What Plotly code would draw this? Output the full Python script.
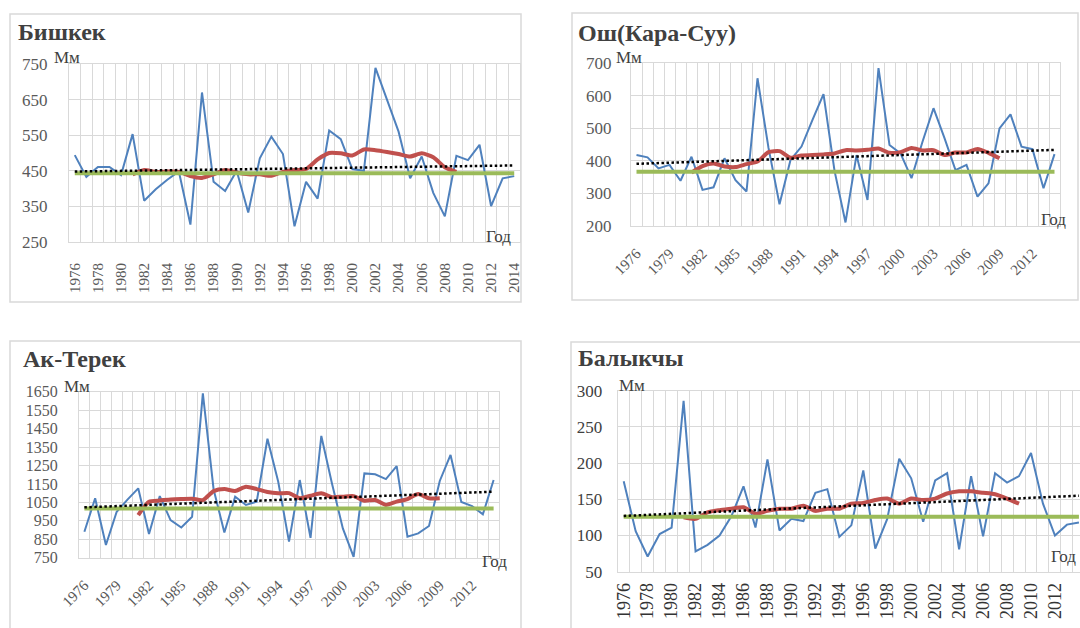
import plotly.graph_objects as go

W, H = 1080, 628

years = list(range(1976, 2015))
ma_years = list(range(1981, 2010))

# --- Бишкек ---
bishkek = [494, 433, 461, 461, 438, 553, 366, 398, 425, 448,
           299, 670, 419, 393, 450, 333, 485, 546, 497, 294,
           419, 372, 563, 539, 455, 450, 739, 650, 560, 429,
           490, 388, 322, 492, 480, 523, 351, 429, 435]
bishkek_ma = [440, 452, 447, 448, 447, 435, 430, 440, 452, 445,
              440, 440, 436, 447, 452, 455, 482, 500, 499, 493,
              510, 508, 503, 497, 490, 499, 488, 460, 447]
bishkek_norm = 443
bishkek_trend = [448, 465]

# --- Ош (Кара-Суу) ---
osh = [418, 411, 377, 388, 339, 413, 311, 319, 408, 341,
       306, 654, 440, 267, 403, 444, 526, 605, 370, 211,
       418, 280, 685, 449, 423, 347, 459, 562, 470, 372,
       388, 290, 331, 500, 543, 444, 436, 316, 421]
osh_ma = [364, 384, 392, 383, 381, 390, 398, 427, 430, 410,
          417, 418, 420, 423, 433, 432, 434, 438, 425, 427,
          440, 432, 433, 418, 426, 426, 437, 425, 408]
osh_norm = 367
osh_trend = [391, 434]

# --- Ак-Терек ---
akterek = [891, 1072, 819, 999, 1065, 1126, 878, 1084, 954, 914,
           972, 1641, 1120, 887, 1081, 1036, 1054, 1395, 1162, 837,
           1171, 858, 1410, 1150, 909, 755, 1207, 1202, 1176, 1247,
           864, 882, 922, 1166, 1307, 1052, 1030, 985, 1171]
akterek_ma = [981, 1054, 1060, 1065, 1068, 1070, 1062, 1111, 1122, 1112,
              1135, 1122, 1106, 1099, 1100, 1072, 1086, 1099, 1078, 1081,
              1084, 1059, 1063, 1036, 1054, 1068, 1095, 1072, 1072]
akterek_norm = 1017
akterek_trend = [1023, 1108]

# --- Балыкчы ---
balykchy = [175, 106, 71, 102, 111, 286, 78, 87, 100, 127,
            168, 111, 205, 107, 123, 120, 159, 164, 98, 114,
            190, 82, 123, 206, 179, 119, 176, 186, 81, 182,
            99, 186, 173, 182, 214, 144, 100, 115, 118]
balykchy_ma = [125, 123, 132, 135, 137, 139, 130, 134, 137, 137,
               141, 134, 137, 137, 144, 145, 149, 151, 144, 151,
               149, 151, 158, 161, 161, 159, 157, 151, 144]
balykchy_norm = 126
balykchy_trend = [127, 155]

titles = ["Бишкек", "Ош(Кара-Суу)", "Ак-Терек", "Балыкчы"]

BLUE = "#4F81BD"
RED = "#C0504D"
GREEN = "#9BBB59"
GRID = "#D9D9D9"
TICK = "#595959"
TEXT = "#404040"
SERIF = "Liberation Serif"


def px(x):
    return x / W


def py(y):
    return 1 - y / H


panels = [
    dict(data=bishkek, ma=bishkek_ma, norm=bishkek_norm, trend=bishkek_trend,
         box=(69, 520, 64, 242), yr=(250, 750), dy=100, xr=(1975.5, 2014.5),
         xt=list(range(1976, 2015, 2)), ang=-90, ystand=17, xstand=14,
         xfont=(15, TICK), yfont=(17, TICK),
         title=(16, 32), mm=(52, 58), god=(513, 236)),
    dict(data=osh, ma=osh_ma, norm=osh_norm, trend=osh_trend,
         box=(631, 1060, 63.3, 226), yr=(200, 700), dy=100, xr=(1975.5, 2014.5),
         xt=list(range(1976, 2015, 3)), ang=-45, ystand=15, xstand=12,
         xfont=(15, TICK), yfont=(17, TICK),
         title=(576, 33), mm=(614, 58), god=(1068, 220)),
    dict(data=akterek, ma=akterek_ma, norm=akterek_norm, trend=akterek_trend,
         box=(79, 499, 391.7, 557.7), yr=(750, 1650), dy=100, xr=(1975.5, 2014.5),
         xt=list(range(1976, 2015, 3)), ang=-45, ystand=17, xstand=12,
         xfont=(15, TICK), yfont=(16, TICK),
         title=(21, 359), mm=(62, 386), god=(509, 561)),
    dict(data=balykchy, ma=balykchy_ma, norm=balykchy_norm, trend=balykchy_trend,
         box=(617.7, 1080, 390.7, 571.7), yr=(50, 300), dy=50, xr=(1975.5, 2014.09),
         xt=list(range(1976, 2015, 2)), ang=-90, ystand=11, xstand=3,
         xfont=(18, "#333333"), yfont=(17, "#404040"),
         title=(576, 358), mm=(617, 385), god=(1078, 556)),
]

fig = go.Figure()
annotations = []
layout_axes = {}

for i, p in enumerate(panels, start=1):
    sx = "" if i == 1 else str(i)
    xa, ya = "x" + sx, "y" + sx
    # precipitation series
    fig.add_trace(go.Scatter(x=years, y=p["data"], mode="lines", xaxis=xa, yaxis=ya,
                             line=dict(color=BLUE, width=2), showlegend=False))
    # 11-year moving average
    fig.add_trace(go.Scatter(x=ma_years, y=p["ma"], mode="lines", xaxis=xa, yaxis=ya,
                             line=dict(color=RED, width=4, shape="spline", smoothing=0.6),
                             showlegend=False))
    # climatic norm
    fig.add_trace(go.Scatter(x=years, y=[p["norm"]] * len(years), mode="lines",
                             xaxis=xa, yaxis=ya, line=dict(color=GREEN, width=4),
                             showlegend=False))
    # linear trend
    fig.add_trace(go.Scatter(x=[years[0], years[-1]], y=p["trend"], mode="lines",
                             xaxis=xa, yaxis=ya,
                             line=dict(color="black", width=2.5, dash="2.5px,2.5px"),
                             showlegend=False))

    x0, x1, y0, y1 = p["box"]
    layout_axes["xaxis" + sx] = dict(
        domain=[px(x0), min(px(x1), 1.0)], anchor=ya, range=list(p["xr"]),
        tickmode="array", tickvals=p["xt"], ticktext=[str(v) for v in p["xt"]],
        tickangle=p["ang"], showgrid=False, zeroline=False, automargin=False,
        ticks="", ticklabelstandoff=p["xstand"],
        tickfont=dict(family=SERIF, size=p["xfont"][0], color=p["xfont"][1]),
        minor=dict(tick0=1975.5, dtick=1, showgrid=True, gridcolor=GRID,
                   gridwidth=1, ticks=""),
        showline=True, linecolor=GRID, linewidth=1, mirror=True,
        fixedrange=True,
    )
    layout_axes["yaxis" + sx] = dict(
        domain=[py(y1), py(y0)], anchor=xa, range=list(p["yr"]),
        tickmode="linear", tick0=p["yr"][0], dtick=p["dy"],
        showgrid=True, gridcolor=GRID, gridwidth=1, zeroline=False, automargin=False,
        ticks="", ticklabelstandoff=p["ystand"],
        tickfont=dict(family=SERIF, size=p["yfont"][0], color=p["yfont"][1]),
        showline=True, linecolor=GRID, linewidth=1, mirror=(i != 4),
        fixedrange=True,
    )

    tx, ty = p["title"]
    annotations.append(dict(text="<b>" + titles[i - 1] + "</b>", x=px(tx), y=py(ty),
                            xref="paper", yref="paper", xanchor="left", yanchor="middle",
                            showarrow=False, font=dict(family=SERIF, size=24, color=TEXT)))
    mx, my = p["mm"]
    annotations.append(dict(text="Мм", x=px(mx), y=py(my), xref="paper", yref="paper",
                            xanchor="left", yanchor="middle", showarrow=False,
                            font=dict(family=SERIF, size=17, color=TEXT)))
    gx, gy = p["god"]
    annotations.append(dict(text="Год", x=px(gx), y=py(gy), xref="paper", yref="paper",
                            xanchor="right", yanchor="middle", showarrow=False,
                            font=dict(family=SERIF, size=17, color=TEXT)))

# chart-area frames
frames = [(10, 521, 14, 302), (572, 1078, 13, 300), (10, 521, 341, 640), (571, 1100, 342, 640)]
shapes = []
for (a, b, c, d) in frames:
    shapes.append(dict(type="rect", xref="paper", yref="paper",
                       x0=px(a), x1=px(b), y0=py(d), y1=py(c),
                       line=dict(color=GRID, width=1.5), fillcolor="rgba(0,0,0,0)",
                       layer="below"))

fig.update_layout(
    width=W, height=H, margin=dict(l=0, r=0, t=0, b=0, autoexpand=False),
    paper_bgcolor="white", plot_bgcolor="white",
    annotations=annotations, shapes=shapes, showlegend=False,
    **layout_axes,
)

fig.write_html("out.html")
